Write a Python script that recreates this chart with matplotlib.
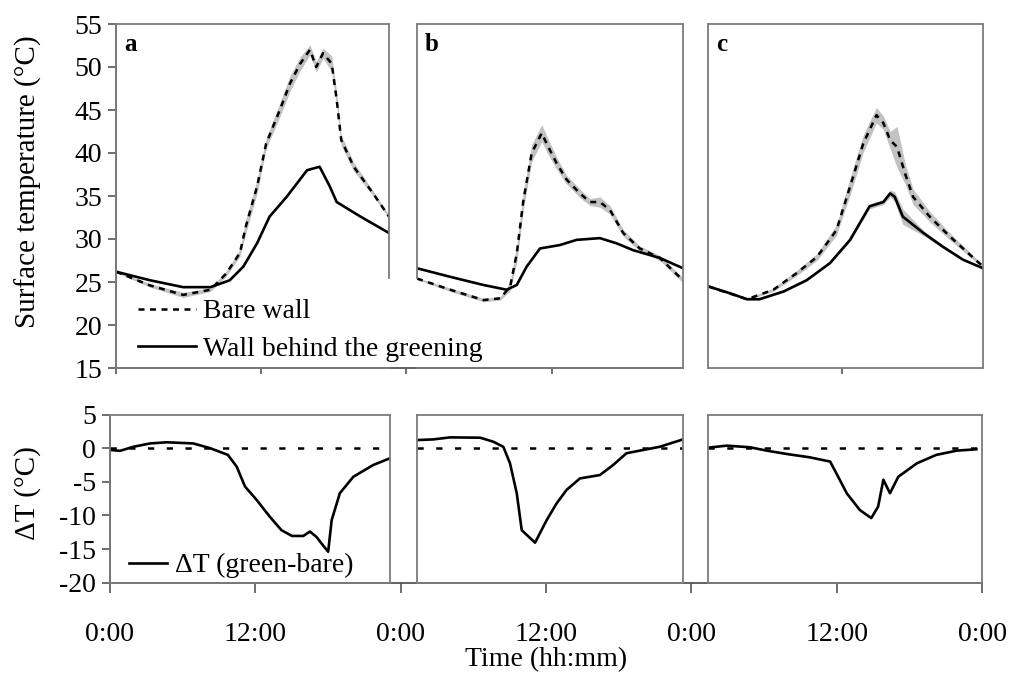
import matplotlib
matplotlib.use("Agg")
import matplotlib.pyplot as plt
import numpy as np

plt.rcParams['font.family'] = ['Liberation Serif', 'DejaVu Serif']
plt.rcParams['axes.unicode_minus'] = False

# ---------------- data (hours of day, temperatures in °C) ----------------
# panel a
A_GREEN_H = [0, 3.0, 5.9, 8.3, 10.0, 11.2, 12.4, 13.5, 15.0, 16.8, 17.9, 18.8, 19.4, 21.5, 24]
A_GREEN_T = [26.2, 25.2, 24.4, 24.4, 25.2, 26.8, 29.5, 32.6, 34.9, 38.0, 38.4, 36.1, 34.3, 32.6, 30.7]
A_BARE_H = [0, 3.0, 5.9, 8.3, 9.7, 10.9, 11.4, 12.4, 13.2, 14.4, 15.3, 16.2, 17.05, 17.6, 18.2,
            18.96, 19.4, 19.8, 20.9, 22.6, 24]
A_BARE_T = [26.2, 24.6, 23.5, 24.1, 26.0, 28.4, 31.4, 36.1, 41.1, 45.0, 48.1, 50.4, 52.0, 50.0, 51.6,
            50.4, 46.2, 41.5, 38.4, 35.3, 32.6]
A_BARE_SD = [0.1, 0.2, 0.3, 0.2, 0.3, 0.4, 0.8, 0.8, 0.6, 0.8, 0.9, 0.8, 0.6, 0.6, 0.6,
             0.9, 0.8, 0.6, 0.5, 0.3, 0.2]
# panel b
B_GREEN_H = [0, 3.0, 6.0, 8.1, 9.0, 9.9, 11.1, 12.9, 14.4, 16.5, 18.0, 19.5, 21.9, 24]
B_GREEN_T = [26.6, 25.6, 24.65, 24.1, 24.65, 26.8, 28.9, 29.3, 29.9, 30.1, 29.5, 28.7, 27.8, 26.6]
B_BARE_H = [0, 3.0, 6.0, 7.5, 8.4, 9.0, 9.6, 10.35, 11.25, 11.85, 12.6, 13.5, 14.7, 15.6, 16.5,
            17.4, 18.6, 20.1, 21.9, 24]
B_BARE_T = [25.4, 24.1, 22.9, 23.1, 24.45, 28.3, 34.5, 40.0, 42.3, 40.7, 38.8, 36.9, 35.3, 34.3, 34.3,
            33.4, 30.7, 28.9, 27.8, 25.2]
B_BARE_SD = [0.1, 0.2, 0.2, 0.2, 0.5, 1.0, 1.0, 1.0, 1.0, 0.9, 0.7, 0.5, 0.5, 0.4, 0.6,
             0.5, 0.4, 0.3, 0.3, 0.3]
# panel c
C_GREEN_H = [0, 1.9, 3.4, 4.5, 6.6, 8.6, 10.65, 12.4, 14.1, 15.3, 15.9, 16.3, 17.0, 18.8, 20.5, 22.25, 24]
C_GREEN_T = [24.5, 23.7, 23.0, 23.0, 23.9, 25.2, 27.2, 29.9, 33.8, 34.3, 35.3, 34.9, 32.6, 30.7, 29.1, 27.6, 26.6]
C_GREEN_SD = [0.1, 0.1, 0.1, 0.1, 0.1, 0.1, 0.1, 0.2, 0.3, 0.3, 0.4, 0.6, 0.9, 0.3, 0.2, 0.1, 0.1]
C_BARE_H = [0, 3.4, 5.7, 7.7, 9.5, 11.2, 12.4, 13.55, 14.7, 15.3, 15.9, 16.5, 17.2, 17.9, 19.35, 21.1, 24]
C_BARE_T = [24.5, 23.0, 24.1, 26.0, 27.9, 31.0, 36.1, 41.1, 44.4, 43.5, 41.5, 40.7, 37.6, 34.9, 32.6, 30.3, 26.8]
C_BARE_SD = [0.1, 0.1, 0.2, 0.3, 0.4, 0.6, 1.0, 1.0, 0.9, 0.8, 1.0, 2.4, 1.2, 0.9, 0.6, 0.4, 0.2]

# temperature difference green - bare
DA_H = [0, 0.86, 2.0, 3.43, 4.86, 7.14, 8.57, 10.1, 10.86, 11.57, 12.57, 13.7, 14.7, 15.6, 16.57,
        17.14, 17.7, 18.1, 18.7, 19.0, 19.7, 20.86, 22.57, 24]
DA_T = [-0.27, -0.4, 0.2, 0.7, 0.87, 0.7, 0.0, -1.0, -2.75, -5.7, -7.7, -10.2, -12.2, -13.05, -13.05,
        -12.4, -13.2, -14.1, -15.4, -10.7, -6.7, -4.25, -2.5, -1.5]
DB_H = [0, 1.47, 2.98, 5.7, 6.88, 7.79, 8.39, 9.0, 9.45, 10.65, 11.7, 12.6, 13.5, 14.7, 16.5,
        17.7, 18.9, 20.1, 21.9, 24]
DB_T = [1.2, 1.3, 1.6, 1.55, 0.96, 0.2, -2.25, -6.7, -12.2, -14.05, -10.7, -8.2, -6.2, -4.5, -4.0,
        -2.5, -0.76, -0.37, 0.2, 1.3]
DC_H = [0, 1.64, 3.68, 5.14, 6.9, 8.9, 10.7, 11.4, 12.15, 13.3, 14.3, 14.9, 15.36, 15.94, 16.67,
        18.3, 20.0, 21.8, 23.5]
DC_T = [0.07, 0.37, 0.13, -0.37, -0.87, -1.36, -2.0, -4.25, -6.7, -9.2, -10.4, -8.7, -4.7, -6.7, -4.25,
        -2.25, -1.0, -0.37, -0.17]

PANEL_LABELS = ['a', 'b', 'c']
TIME_TICKS = [0, 12, 24, 36, 48, 60, 72]
TIME_LABELS = ['0:00', '12:00', '0:00', '12:00', '0:00', '12:00', '0:00']
TOP_YTICKS = [15, 20, 25, 30, 35, 40, 45, 50, 55]
BOT_YTICKS = [-20, -15, -10, -5, 0, 5]

# ---------------- layout ----------------
W, H = 1019, 677
fig = plt.figure(figsize=(W / 100, H / 100), dpi=100)


def rect(x0, x1, ytop, ybot):
    return [x0 / W, 1 - ybot / H, (x1 - x0) / W, (ybot - ytop) / H]


FRAME = '#7c7c7c'
AXC = '#555555'
FS = 20
BAND = '#c2c2c2'

TOP_Y = (24, 368)
BOT_Y = (414.5, 582.7)
TOP_X = [(116, 389), (417, 683), (708, 983)]
BOT_X = [(110, 390), (417, 683), (708, 982)]

# overlay axes (shared scales / axis lines)
ov_t = fig.add_axes(rect(116, 987, *TOP_Y))
ov_t.patch.set_visible(False)
ov_t.set_xlim(0, 72)
ov_t.set_ylim(15, 55)
for s in ['top', 'right']:
    ov_t.spines[s].set_visible(False)
for s in ['left', 'bottom']:
    ov_t.spines[s].set_color(AXC)
    ov_t.spines[s].set_linewidth(1.3)
ov_t.spines['bottom'].set_bounds(0, 46.9)
ov_t.set_xticks([0, 12, 24, 36, 60])
ov_t.set_xticklabels([])
ov_t.set_yticks(TOP_YTICKS)
ov_t.tick_params(axis='y', direction='out', length=6, width=1.2, color=AXC, labelsize=FS, pad=4)
ov_t.tick_params(axis='x', direction='out', length=4.5, width=1.2, color=AXC)

ov_b = fig.add_axes(rect(110, 982, *BOT_Y))
ov_b.patch.set_visible(False)
ov_b.set_xlim(0, 72)
ov_b.set_ylim(-20, 5)
for s in ['top', 'right']:
    ov_b.spines[s].set_visible(False)
for s in ['left', 'bottom']:
    ov_b.spines[s].set_color(AXC)
    ov_b.spines[s].set_linewidth(1.3)
ov_b.set_xticks(TIME_TICKS)
ov_b.set_xticklabels(TIME_LABELS)
ov_b.set_yticks(BOT_YTICKS)
ov_b.tick_params(axis='y', direction='out', length=6, width=1.2, color=AXC, labelsize=FS, pad=4)
ov_b.tick_params(axis='x', direction='out', length=7, width=1.2, color=AXC, labelsize=FS, pad=21)

# temperature panels
top_data = [
    (A_GREEN_H, A_GREEN_T, None, A_BARE_H, A_BARE_T, A_BARE_SD),
    (B_GREEN_H, B_GREEN_T, None, B_BARE_H, B_BARE_T, B_BARE_SD),
    (C_GREEN_H, C_GREEN_T, C_GREEN_SD, C_BARE_H, C_BARE_T, C_BARE_SD),
]
handles = None
for i, ((x0, x1), (gh, gt, gsd, bh, bt, bsd)) in enumerate(zip(TOP_X, top_data)):
    ax = fig.add_axes(rect(x0, x1, *TOP_Y))
    ax.patch.set_visible(False)
    ax.set_xlim(0, 24)
    ax.set_ylim(15, 55)
    ax.set_xticks([])
    ax.set_yticks([])
    for s in ax.spines.values():
        s.set_color(FRAME)
        s.set_linewidth(1.3)
    if i == 0:
        ax.spines['right'].set_bounds(25.5, 55)
    if i == 1:
        ax.spines['left'].set_bounds(25.5, 55)
    bh_a = np.array(bh)
    bt_a = np.array(bt)
    bsd_a = np.array(bsd)
    ax.fill_between(bh_a, bt_a - bsd_a, bt_a + bsd_a, color=BAND, lw=0)
    if gsd is not None:
        ga = np.array(gt)
        gs = np.array(gsd)
        ax.fill_between(gh, ga - gs, ga + gs, color=BAND, lw=0)
    lb, = ax.plot(bh, bt, color='black', lw=1.8, ls=(0, (2.4, 2.2)), label='Bare wall')
    lg, = ax.plot(gh, gt, color='black', lw=1.9, label='Wall behind the greening')
    ax.text(0.03, 0.94, PANEL_LABELS[i], transform=ax.transAxes, fontsize=18,
            fontweight='bold', ha='left', va='center')
    if i == 0:
        handles = [lb, lg]

ov_t.legend(handles=handles, loc='upper left', frameon=False, fontsize=FS,
            bbox_to_anchor=(138 / W, 1 - 299 / H), bbox_transform=fig.transFigure,
            borderpad=0, borderaxespad=0, handlelength=2.1, handletextpad=0.25,
            labelspacing=0.42)

# difference panels
bot_data = [(DA_H, DA_T), (DB_H, DB_T), (DC_H, DC_T)]
dl = None
for i, ((x0, x1), (dh, dt)) in enumerate(zip(BOT_X, bot_data)):
    ax = fig.add_axes(rect(x0, x1, *BOT_Y))
    ax.patch.set_visible(False)
    ax.set_xlim(0, 24)
    ax.set_ylim(-20, 5)
    ax.set_xticks([])
    ax.set_yticks([])
    for s in ax.spines.values():
        s.set_color(FRAME)
        s.set_linewidth(1.3)
    ax.axhline(0, color='black', lw=1.8, ls=(0, (2.5, 5)))
    l, = ax.plot(dh, dt, color='black', lw=1.9, label='ΔT (green-bare)')
    if i == 0:
        dl = l

ov_b.legend(handles=[dl], loc='upper left', frameon=False, fontsize=FS,
            bbox_to_anchor=(129 / W, 1 - 553 / H), bbox_transform=fig.transFigure,
            borderpad=0, borderaxespad=0, handlelength=1.35, handletextpad=0.3)

# axis titles
fig.text(28 / W, 1 - 182 / H, 'Surface temperature (°C)', rotation=90,
         ha='center', va='center', fontsize=21)
fig.text(28 / W, 1 - 493 / H, 'ΔT (°C)', rotation=90, ha='center', va='center', fontsize=21)
fig.text(546 / W, 1 - 660 / H, 'Time (hh:mm)', ha='center', va='center', fontsize=FS)

fig.savefig('out.png', dpi=100)
